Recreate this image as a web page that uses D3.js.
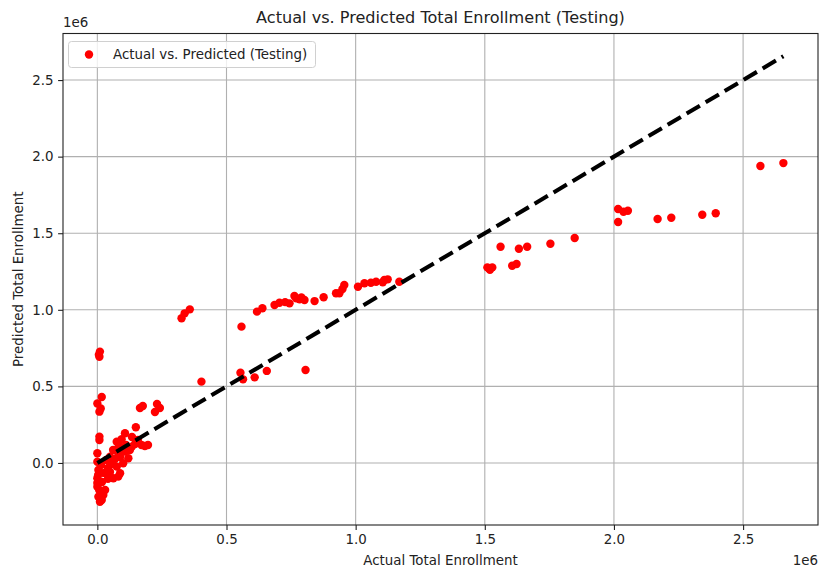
<!DOCTYPE html>
<html>
<head>
<meta charset="utf-8">
<script src="https://cdn.jsdelivr.net/npm/d3@7"></script>
<style>
  html, body { margin: 0; padding: 0; background: #fff; }
  svg { display: block; font-family: "DejaVu Sans", sans-serif; }
</style>
</head>
<body>
<svg id="chart" width="820" height="569"></svg>
<script>
// Actual enrollment (x) and model prediction (y), in units of 1e6
const actual = [
  2.656, 2.567, 2.394, 2.342, 2.222, 2.169, 2.016, 2.054, 2.037, 2.016,
  1.848, 1.754, 1.664, 1.632, 1.561, 1.623, 1.606, 1.516, 1.529, 1.510,
  1.520,
  1.169, 1.124, 1.111, 1.079, 1.059, 1.034, 1.009, 0.956, 0.949, 0.937,
  0.924, 0.876, 0.841, 0.802, 0.783, 0.763, 0.744, 0.705, 0.686, 0.639,
  0.618, 0.558, 0.358, 0.338, 0.326, 0.403, 0.554, 0.564, 0.609, 0.656,
  0.806, 1.105, 0.770, 0.790, 0.727,
  0.010, 0.006, 0.008, 0.017, 0.000, 0.013, 0.008, 0.008, 0.008, 0.000,
  0.165, 0.176, 0.223, 0.231, 0.242, 0.149, 0.107, 0.075, 0.094, 0.171,
  0.133, 0.107, 0.081, 0.049, 0.120, 0.100, 0.075, 0.081, 0.062, 0.088,
  0.030, 0.023, 0.010, 0.004, 0.000, 0.004, 0.000, 0.000, 0.017,
  0.146, 0.126, 0.157, 0.184, 0.196, 0.057, 0.041, 0.026, 0.068, 0.088,
  0.049, 0.018, 0.007, 0.014, 0.034, 0.111, 0.061, 0.003, 0.000, 0.041,
  0.134, 0.084
];
const predicted = [
  1.958, 1.939, 1.630, 1.621, 1.601, 1.593, 1.658, 1.647, 1.640, 1.573,
  1.469, 1.431, 1.412, 1.399, 1.412, 1.299, 1.288, 1.271, 1.277, 1.277,
  1.262,
  1.183, 1.199, 1.195, 1.183, 1.177, 1.173, 1.151, 1.162, 1.136, 1.108,
  1.108, 1.082, 1.057, 1.064, 1.069, 1.090, 1.042, 1.046, 1.031, 1.010,
  0.988, 0.890, 1.003, 0.977, 0.945, 0.531, 0.589, 0.546, 0.559, 0.601,
  0.607, 1.180, 1.075, 1.080, 1.050,
  0.727, 0.706, 0.693, 0.431, 0.388, 0.356, 0.335, 0.172, 0.150, 0.063,
  0.359, 0.372, 0.333, 0.385, 0.359, 0.233, 0.194, 0.139, 0.155, 0.117,
  0.106, 0.074, 0.063, 0.041, 0.031, -0.002, -0.024, -0.089, -0.100, -0.067,
  -0.176, -0.209, -0.253, -0.220, -0.155, -0.046, -0.100, 0.008, -0.242,
  0.124, 0.085, 0.150, 0.111, 0.117, -0.007, -0.033, -0.065, 0.026, 0.039,
  -0.059, -0.124, -0.176, -0.013, 0.020, 0.117, 0.085, -0.078, -0.131, -0.104,
  0.170, 0.111
];
const xTicks = [0, 0.5, 1.0, 1.5, 2.0, 2.5];
const yTicks = [0, 0.5, 1.0, 1.5, 2.0, 2.5];
const SCALE = 1e6;

const points = actual.map((a, i) => ({ x: a * SCALE, y: predicted[i] * SCALE }));
const lo = d3.min(actual) * SCALE, hi = d3.max(actual) * SCALE;

const svg = d3.select("#chart");
const plotL = 63, plotR = 818, plotT = 33.5, plotB = 525;
const FS = 13.4, TITLE_FS = 16.1;

const x = d3.scaleLinear().domain([-0.133e6, 2.79e6]).range([plotL, plotR]);
const y = d3.scaleLinear().domain([-0.405e6, 2.804e6]).range([plotB, plotT]);

// grid
const grid = svg.append("g");
grid.selectAll("line.gx").data(xTicks).join("line")
  .attr("x1", d => x(d * SCALE)).attr("x2", d => x(d * SCALE))
  .attr("y1", plotT).attr("y2", plotB)
  .attr("stroke", "#b0b0b0").attr("stroke-width", 1.1);
grid.selectAll("line.gy").data(yTicks).join("line")
  .attr("y1", d => y(d * SCALE)).attr("y2", d => y(d * SCALE))
  .attr("x1", plotL).attr("x2", plotR)
  .attr("stroke", "#b0b0b0").attr("stroke-width", 1.1);

// scatter
svg.append("g").selectAll("circle").data(points).join("circle")
  .attr("cx", d => x(d.x)).attr("cy", d => y(d.y))
  .attr("r", 4.2).attr("fill", "#ff0000");

// identity reference line
svg.append("line")
  .attr("x1", x(lo)).attr("y1", y(lo))
  .attr("x2", x(hi)).attr("y2", y(hi))
  .attr("stroke", "#000").attr("stroke-width", 4.1)
  .attr("stroke-dasharray", "15.4,6.7");

// axes
const fmt = d => (d / SCALE).toFixed(1);
const xAxis = d3.axisBottom(x).tickValues(xTicks.map(d => d * SCALE)).tickFormat(fmt)
  .tickSize(4.9).tickPadding(4.5);
const yAxis = d3.axisLeft(y).tickValues(yTicks.map(d => d * SCALE)).tickFormat(fmt)
  .tickSize(4.9).tickPadding(4.5);

const gx = svg.append("g").attr("transform", `translate(0,${plotB})`).call(xAxis);
const gy = svg.append("g").attr("transform", `translate(${plotL},0)`).call(yAxis);
[gx, gy].forEach(g => {
  g.select(".domain").remove();
  g.selectAll("text").attr("font-size", FS).attr("fill", "#222")
    .attr("font-family", "DejaVu Sans, sans-serif");
  g.selectAll("line").attr("stroke", "#222").attr("stroke-width", 1.1);
});

// frame
svg.append("rect").attr("x", plotL).attr("y", plotT)
  .attr("width", plotR - plotL).attr("height", plotB - plotT)
  .attr("fill", "none").attr("stroke", "#222").attr("stroke-width", 1.1);

// offset labels
svg.append("text").attr("x", plotL).attr("y", 27).attr("font-size", FS)
  .attr("fill", "#222").text("1e6");
svg.append("text").attr("x", plotR).attr("y", 565).attr("text-anchor", "end")
  .attr("font-size", FS).attr("fill", "#222").text("1e6");

// titles
svg.append("text").attr("x", (plotL + plotR) / 2).attr("y", 23)
  .attr("text-anchor", "middle").attr("font-size", TITLE_FS).attr("fill", "#222")
  .text("Actual vs. Predicted Total Enrollment (Testing)");
svg.append("text").attr("x", (plotL + plotR) / 2).attr("y", 565)
  .attr("text-anchor", "middle").attr("font-size", FS).attr("fill", "#222")
  .text("Actual Total Enrollment");
svg.append("text")
  .attr("transform", `translate(23,${(plotT + plotB) / 2}) rotate(-90)`)
  .attr("text-anchor", "middle").attr("font-size", FS).attr("fill", "#222")
  .text("Predicted Total Enrollment");

// legend
const lg = svg.append("g");
lg.append("rect").attr("x", 68.5).attr("y", 41.5).attr("width", 247).attr("height", 26)
  .attr("rx", 3).attr("fill", "#fff").attr("fill-opacity", 0.8)
  .attr("stroke", "#d0d0d0").attr("stroke-width", 1);
lg.append("circle").attr("cx", 89).attr("cy", 54.5).attr("r", 4.2).attr("fill", "#ff0000");
lg.append("text").attr("x", 113).attr("y", 59).attr("font-size", FS).attr("fill", "#222")
  .text("Actual vs. Predicted (Testing)");
</script>
</body>
</html>
